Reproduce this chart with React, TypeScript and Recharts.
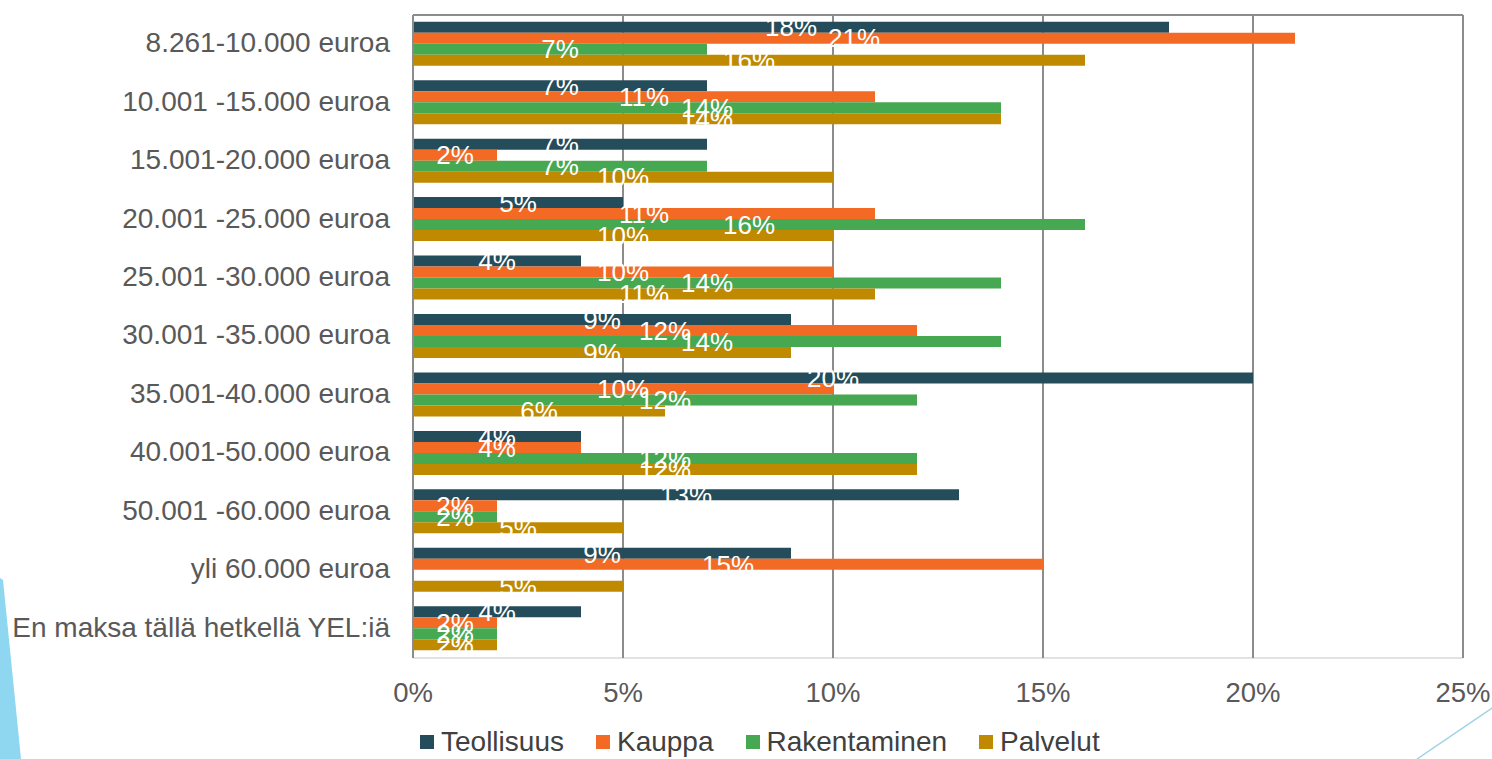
import { BarChart, Bar, XAxis, YAxis, CartesianGrid, LabelList } from "recharts";

const categories = [
  "8.261-10.000 euroa",
  "10.001 -15.000 euroa",
  "15.001-20.000 euroa",
  "20.001 -25.000 euroa",
  "25.001 -30.000 euroa",
  "30.001 -35.000 euroa",
  "35.001-40.000 euroa",
  "40.001-50.000 euroa",
  "50.001 -60.000 euroa",
  "yli 60.000 euroa",
  "En maksa tällä hetkellä YEL:iä",
];

const teollisuus = [18, 7, 7, 5, 4, 9, 20, 4, 13, 9, 4];
const kauppa = [21, 11, 2, 11, 10, 12, 10, 4, 2, 15, 2];
const rakentaminen = [7, 14, 7, 16, 14, 14, 12, 12, 2, 0, 2];
const palvelut = [16, 14, 10, 10, 11, 9, 6, 12, 5, 5, 2];

const xTicks = [0, 5, 10, 15, 20, 25];
const boundaryTicks = [0, 1, 2, 3, 4, 5, 6, 7, 8, 9, 10, 11];

const series = [
  { key: "teollisuus", name: "Teollisuus", color: "#244c5a" },
  { key: "kauppa", name: "Kauppa", color: "#f26a24" },
  { key: "rakentaminen", name: "Rakentaminen", color: "#47a852" },
  { key: "palvelut", name: "Palvelut", color: "#c08a00" },
];

const data = categories.map((cat, i) => ({
  cat,
  teollisuus: teollisuus[i],
  kauppa: kauppa[i],
  rakentaminen: rakentaminen[i],
  palvelut: palvelut[i],
}));

const FONT = '"Liberation Sans", Arial, sans-serif';
const AXIS_GRAY = "#8c8c8c";

export default function App() {
  return (
    <div style={{ position: "absolute", left: 0, top: 0, width: 1492, height: 759, background: "#fff", fontFamily: FONT }}>
      {/* slide decorations */}
      <svg width={1492} height={759} style={{ position: "absolute", left: 0, top: 0 }}>
        <polygon points="0,578 3,580 21,759 0,759" fill="#8fd6f1" />
        <line x1={1417} y1={759} x2={1492} y2={708} stroke="#9fd3e3" strokeWidth={1.5} />
      </svg>

      <div style={{ position: "absolute", left: 0, top: 0 }}>
        <BarChart
          width={1492}
          height={759}
          data={data}
          layout="vertical"
          margin={{ top: 14, right: 29, bottom: 0, left: 0 }}
          barCategoryGap="11.5%"
          barGap={0}
        >
          <CartesianGrid yAxisId="a_grid" horizontal vertical={false} stroke="#e2e2e2" strokeWidth={2} />
          <CartesianGrid yAxisId="b_cat" horizontal={false} vertical stroke={AXIS_GRAY} strokeWidth={2} />
          <XAxis
            type="number"
            domain={[0, 25]}
            ticks={xTicks}
            tickFormatter={(v) => `${v}%`}
            axisLine={false}
            tickLine={false}
            tickSize={0}
            tickMargin={24}
            height={101}
            tick={{ fill: "#595959", fontSize: 27.5, fontFamily: FONT }}
          />
          <XAxis
            xAxisId="top"
            orientation="top"
            type="number"
            domain={[0, 25]}
            ticks={xTicks}
            height={1}
            tick={false}
            tickSize={10}
            axisLine={{ stroke: AXIS_GRAY, strokeWidth: 2 }}
            tickLine={{ stroke: AXIS_GRAY, strokeWidth: 2 }}
          />
          <YAxis
            yAxisId="b_cat"
            type="category"
            dataKey="cat"
            width={412}
            axisLine={false}
            tickLine={false}
            tickSize={0}
            tickMargin={22}
            interval={0}
            tick={{ fill: "#595959", fontSize: 28, fontFamily: FONT, dy: -2 }}
          />
          <YAxis
            yAxisId="a_grid"
            type="number"
            domain={[0, 11]}
            ticks={boundaryTicks}
            width={1}
            tick={false}
            tickSize={8}
            axisLine={{ stroke: AXIS_GRAY, strokeWidth: 2 }}
            tickLine={{ stroke: AXIS_GRAY, strokeWidth: 2 }}
          />
          {series.map((s) => (
            <Bar key={s.key} dataKey={s.key} name={s.name} yAxisId="b_cat" fill={s.color} isAnimationActive={false}>
              <LabelList
                dataKey={s.key}
                position="center"
                formatter={(v: any) => (v ? `${v}%` : "")}
                fill="#ffffff"
                fontSize={26}
                fontFamily={FONT}
              />
            </Bar>
          ))}
        </BarChart>
      </div>

      {/* legend */}
      <div
        style={{
          position: "absolute",
          left: 420,
          top: 725,
          display: "flex",
          alignItems: "center",
          fontSize: 28,
          color: "#404040",
          lineHeight: "34px",
        }}
      >
        {series.map((s) => (
          <div key={s.key} style={{ display: "flex", alignItems: "center", marginRight: 32 }}>
            <span style={{ display: "inline-block", width: 14, height: 14, background: s.color, marginRight: 7 }} />
            <span>{s.name}</span>
          </div>
        ))}
      </div>
    </div>
  );
}
